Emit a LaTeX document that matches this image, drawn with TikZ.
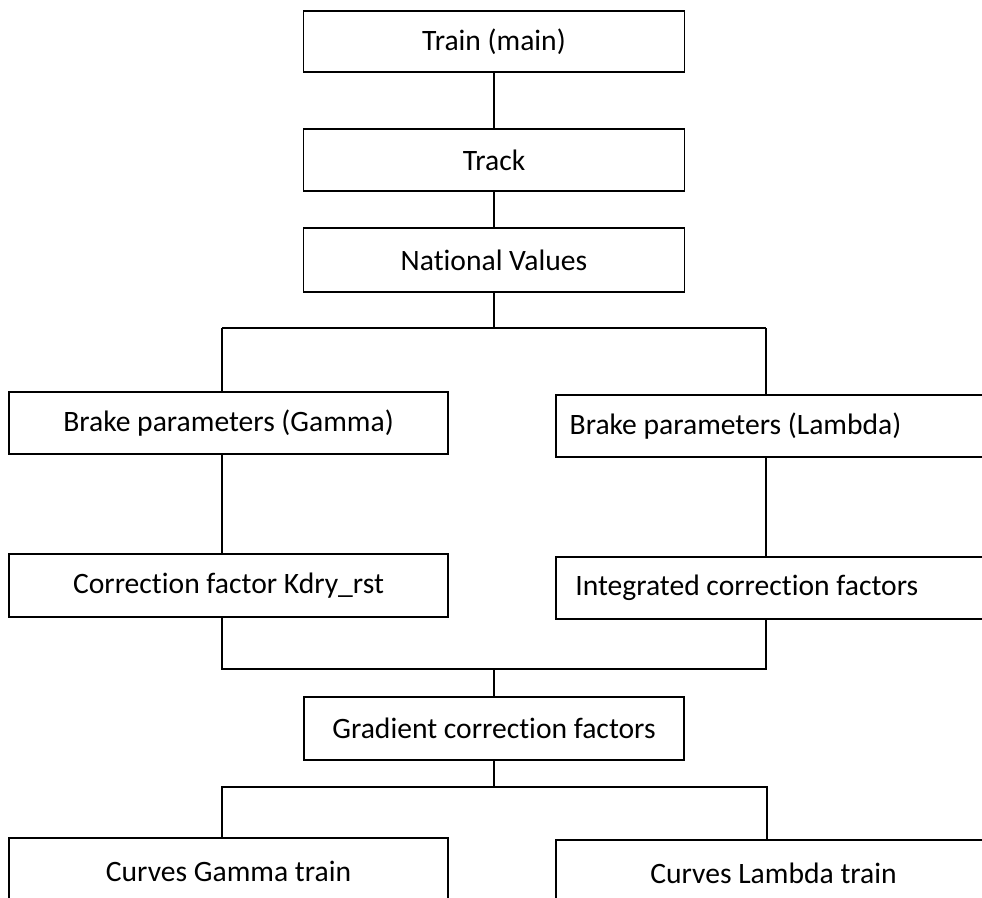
\documentclass[tikz,border=0pt]{standalone}
\usepackage{fontspec}
\setmainfont[RawFeature=-liga]{Carlito}
\begin{document}
\begin{tikzpicture}[x=1pt,y=-1pt,
  box/.style={draw=black,line width=1.8pt,rectangle,inner sep=0pt},
  bigbox/.style={box,minimum width=381pt},
  sidebox/.style={box,minimum width=439pt},
  txt/.style={font=\fontsize{29.6}{34}\selectfont,inner sep=0pt},
  conn/.style={draw=black,line width=1.5pt}]
\useasboundingbox (0,0) rectangle (982,897);
\clip (0,0) rectangle (982,897);
\fill[white] (0,0) rectangle (982,897);
% top chain
\node[bigbox,minimum height=61pt] (train) at (494,41.5) {};
\node[txt] (traint) at (train.center) {Train (main)};
\node[bigbox,minimum height=62pt] (track) at (494,160) {};
\node[txt] (trackt) at (track.center) {Track};
\node[bigbox,minimum height=64pt] (nv) at (494,260) {};
\node[txt] (nvt) at (nv.center) {National Values};
% side boxes
\node[sidebox,minimum height=62pt] (gam) at (228.5,423) {};
\node[txt] (gamt) at (gam.center) {Brake parameters (Gamma)};
\node[sidebox,minimum height=62pt] (lam) at (775.5,426) {};
\node[txt] (lamt) at ([xshift=-40pt]lam.center) {Brake parameters (Lambda)};
\node[sidebox,minimum height=63pt] (corr) at (228.5,585.5) {};
\node[txt] (corrt) at (corr.center) {Correction factor Kdry\_rst};
\node[sidebox,minimum height=62pt] (integ) at (775.5,588) {};
\node[txt,anchor=west] (integt) at ([xshift=20pt]integ.west) {Integrated correction factors};
\node[box,minimum width=380pt,minimum height=63pt] (grad) at (494,728.5) {};
\node[txt] (gradt) at (grad.center) {Gradient correction factors};
\node[sidebox,minimum height=62pt] (cg) at (228.5,869) {};
\node[txt] (cgt) at ([yshift=-2pt]cg.center) {Curves Gamma train};
\node[sidebox,minimum height=62pt] (cl) at (775.5,871) {};
\node[txt] (clt) at ([xshift=-2pt,yshift=-2pt]cl.center) {Curves Lambda train};
% bus coordinates
\coordinate (b1) at (494,328);
\coordinate (b1l) at (222,328);
\coordinate (b1r) at (766,328);
\coordinate (b2) at (494,669);
\coordinate (b2l) at (222,669);
\coordinate (b2r) at (766,669);
\coordinate (b3) at (494,787);
\coordinate (b3l) at (222,787);
\coordinate (b3r) at (767,787);
% connectors
\draw[conn] (train.south) -- (track.north);
\draw[conn] (track.south) -- (nv.north);
\draw[conn] (nv.south) -- (b1);
\draw[conn] (b1l) -- (b1r);
\draw[conn] (b1l) -- (b1l |- gam.north);
\draw[conn] (b1r) -- (b1r |- lam.north);
\draw[conn] (b1l |- gam.south) -- (b1l |- corr.north);
\draw[conn] (b1r |- lam.south) -- (b1r |- integ.north);
\draw[conn] (b2l |- corr.south) -- (b2l) -- (b2r) -- (b2r |- integ.south);
\draw[conn] (b2) -- (grad.north);
\draw[conn] (grad.south) -- (b3);
\draw[conn] (b3l |- cg.north) -- (b3l) -- (b3r) -- (b3r |- cl.north);
\end{tikzpicture}
\end{document}
